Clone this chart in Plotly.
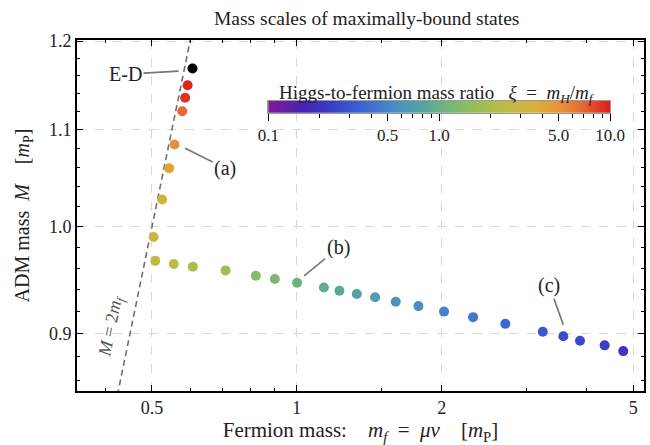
import numpy as np
import plotly.graph_objects as go

# ---------------- data ----------------
ed_mf = [0.607]
ed_M = [1.168]

upper_mf = [0.593, 0.586, 0.578, 0.557, 0.543, 0.525, 0.504]
upper_M = [1.149, 1.135, 1.120, 1.084, 1.059, 1.027, 0.990]
upper_xi = [9.6, 9.0, 6.8, 5.2, 4.2, 3.3, 2.8]

lower_mf = [0.508, 0.555, 0.608, 0.711, 0.822, 0.900, 1.001, 1.138, 1.226, 1.332,
            1.454, 1.605, 1.789, 2.022, 2.323, 2.711, 3.243, 3.578, 3.875, 4.360, 4.766]
lower_M = [0.967, 0.964, 0.9615, 0.958, 0.953, 0.950, 0.9465, 0.942, 0.939, 0.936,
           0.933, 0.929, 0.925, 0.920, 0.915, 0.909, 0.902, 0.898, 0.894, 0.890, 0.885]
lower_xi = [2.5, 2.3, 2.05, 1.7, 1.4, 1.25, 1.05, 0.9, 0.83, 0.76,
            0.7, 0.62, 0.56, 0.49, 0.43, 0.37, 0.31, 0.28, 0.26, 0.23, 0.21]

bound_line_mf = [0.40, 0.66]          # M = 2 m_f line extent

x_ticks = [0.5, 1, 2, 5]
x_ticktext = ["0.5", "1", "2", "5"]
x_minor = [0.4, 0.6, 0.7, 0.8, 0.9, 1.5, 3, 4]
y_ticks = [0.9, 1.0, 1.1, 1.2]
y_ticktext = ["0.9", "1.0", "1.1", "1.2"]
y_minor = [0.86, 0.88, 0.92, 0.94, 0.96, 0.98, 1.02, 1.04, 1.06, 1.08,
           1.12, 1.14, 1.16, 1.18]
cb_ticks = [0.1, 0.5, 1.0, 5.0, 10.0]
cb_ticktext = ["0.1", "0.5", "1.0", "5.0", "10.0"]
cb_minor = [0.2, 0.3, 0.4, 0.6, 0.7, 0.8, 0.9, 2, 3, 4, 6, 7, 8, 9]

colorscale = [
    [0.00, "#7b1e95"], [0.10, "#4a22b2"], [0.17, "#3a38c6"], [0.27, "#3c62d2"],
    [0.37, "#4a8ec6"], [0.45, "#55a4a2"], [0.52, "#70b57c"], [0.60, "#96bd5a"],
    [0.70, "#c0bb45"], [0.78, "#d9af3c"], [0.85, "#e8953a"], [0.92, "#e66834"],
    [1.00, "#dc1c1c"],
]

FONT = "Liberation Serif"
SP = "\u00a0"

fig = go.Figure()

# M = 2 m_f line
fig.add_trace(go.Scatter(
    x=bound_line_mf, y=[2 * m for m in bound_line_mf], mode="lines",
    line=dict(color="#707070", width=1.6, dash="6px,4px"),
    hoverinfo="skip", showlegend=False))

all_mf = upper_mf + lower_mf
all_M = upper_M + lower_M
all_xi = upper_xi + lower_xi
fig.add_trace(go.Scatter(
    x=all_mf, y=all_M, mode="markers",
    marker=dict(size=10, color=np.log10(all_xi), colorscale=colorscale,
                cmin=-1, cmax=1, showscale=False, line=dict(width=0)),
    showlegend=False))

fig.add_trace(go.Scatter(
    x=ed_mf, y=ed_M, mode="markers",
    marker=dict(size=10, color="black"), showlegend=False))

# colour bar as a heatmap in an inset axis
grad = np.linspace(-1, 1, 300)
fig.add_trace(go.Heatmap(
    x=grad, y=[0.5], z=[grad], colorscale=colorscale, zmin=-1, zmax=1,
    showscale=False, xaxis="x2", yaxis="y2", hoverinfo="skip"))

L, R, T, B = 77, 6, 40, 54
W, H = 650, 445
pw, ph = W - L - R, H - T - B

def px_x(p):
    return (p - L) / pw

def px_y(p):
    return (H - B - p) / ph

fig.update_layout(
    width=W, height=H, margin=dict(l=L, r=R, t=T, b=B, autoexpand=False),
    paper_bgcolor="white", plot_bgcolor="white",
    font=dict(family=FONT, size=15, color="#222"),
    xaxis=dict(
        type="log", range=[np.log10(0.3493), np.log10(5.263)], automargin=False,
        tickvals=x_ticks, ticktext=x_ticktext, ticks="inside", ticklen=6,
        tickwidth=1.3, tickcolor="black", mirror="allticks", showline=True,
        linecolor="black", linewidth=1.6, showgrid=True, gridcolor="#d8d8d8",
        griddash="dash", gridwidth=1.3, zeroline=False,
        tickfont=dict(size=18, family=FONT),
        minor=dict(tickvals=x_minor, ticks="inside", ticklen=3.5,
                   tickcolor="black", tickwidth=1.2, showgrid=False),
        title=dict(text=f"Fermion mass:{SP*4}<i>m<sub>f</sub></i>{SP*2}={SP*2}<i>μv</i>{SP*4}[<i>m</i><sub>P</sub>]",
                   font=dict(size=21, family=FONT), standoff=3),
    ),
    yaxis=dict(
        type="log", range=[np.log10(0.851), np.log10(1.2012)], automargin=False,
        tickvals=y_ticks, ticktext=y_ticktext, ticks="inside", ticklen=6,
        tickwidth=1.3, tickcolor="black", mirror="allticks", showline=True,
        linecolor="black", linewidth=1.6, showgrid=True, gridcolor="#d8d8d8",
        griddash="dash", gridwidth=1.3, zeroline=False,
        tickfont=dict(size=18, family=FONT),
        minor=dict(tickvals=y_minor, ticks="inside", ticklen=3.5,
                   tickcolor="black", tickwidth=1.2, showgrid=False),
        title=dict(text=f"ADM mass{SP*2}<i>M</i>{SP*4}[<i>m</i><sub>P</sub>]",
                   font=dict(size=20, family=FONT), standoff=14),
    ),
    xaxis2=dict(
        domain=[px_x(268.3), px_x(610)], anchor="y2", range=[-1, 1],
        automargin=False,
        tickvals=np.log10(cb_ticks), ticktext=cb_ticktext, ticks="outside",
        ticklen=7, tickwidth=1.2, tickcolor="black", showline=True, mirror=True,
        linecolor="#999", linewidth=0.8, showgrid=False, zeroline=False,
        tickfont=dict(size=17, family=FONT),
        minor=dict(tickvals=np.log10(cb_minor), ticks="outside", ticklen=4.5,
                   tickcolor="black", tickwidth=1.1, showgrid=False),
    ),
    yaxis2=dict(
        domain=[px_y(112.7), px_y(101)], anchor="x2", range=[0, 1],
        automargin=False,
        showticklabels=False, ticks="", showline=True, mirror=True,
        linecolor="#999", linewidth=0.8, showgrid=False, zeroline=False,
    ),
)

# title
fig.add_annotation(x=px_x(366), y=px_y(19), xref="paper", yref="paper",
                   showarrow=False, xanchor="center", yanchor="middle",
                   text="Mass scales of maximally-bound states",
                   font=dict(size=19.5, family=FONT, color="#222"))

ann_font = dict(size=20, family=FONT, color="#222")
arrow = dict(showarrow=True, arrowhead=0, arrowwidth=1.6, arrowcolor="#777",
             xref="x", yref="y", axref="pixel", ayref="pixel")
fig.add_annotation(x=np.log10(0.5677), y=np.log10(1.165), ax=-53, ay=3,
                   text="E-D", font=ann_font, **arrow)
fig.add_annotation(x=np.log10(0.586), y=np.log10(1.080), ax=40, ay=20,
                   text="(a)", font=ann_font, **arrow)
fig.add_annotation(x=np.log10(1.0355), y=np.log10(0.9528), ax=34, ay=-28,
                   text="(b)", font=ann_font, **arrow)
fig.add_annotation(x=np.log10(3.578), y=np.log10(0.9081), ax=-14, ay=-39,
                   text="(c)", font=ann_font, **arrow)
fig.add_annotation(x=np.log10(0.4125), y=np.log10(0.9063), showarrow=False,
                   text=f"<i>M</i>{SP}={SP}2<i>m<sub>f</sub></i>", textangle=-78.6,
                   font=dict(size=18, family=FONT, color="#555"))
fig.add_annotation(x=px_x(437), y=px_y(80), xref="paper", yref="paper",
                   showarrow=False,
                   text=f"Higgs-to-fermion mass ratio{SP*3}<i>ξ</i>{SP*2}={SP*2}<i>m<sub>H</sub></i>/<i>m<sub>f</sub></i>",
                   font=dict(size=19, family=FONT, color="#222"))

fig.write_html("out.html")
